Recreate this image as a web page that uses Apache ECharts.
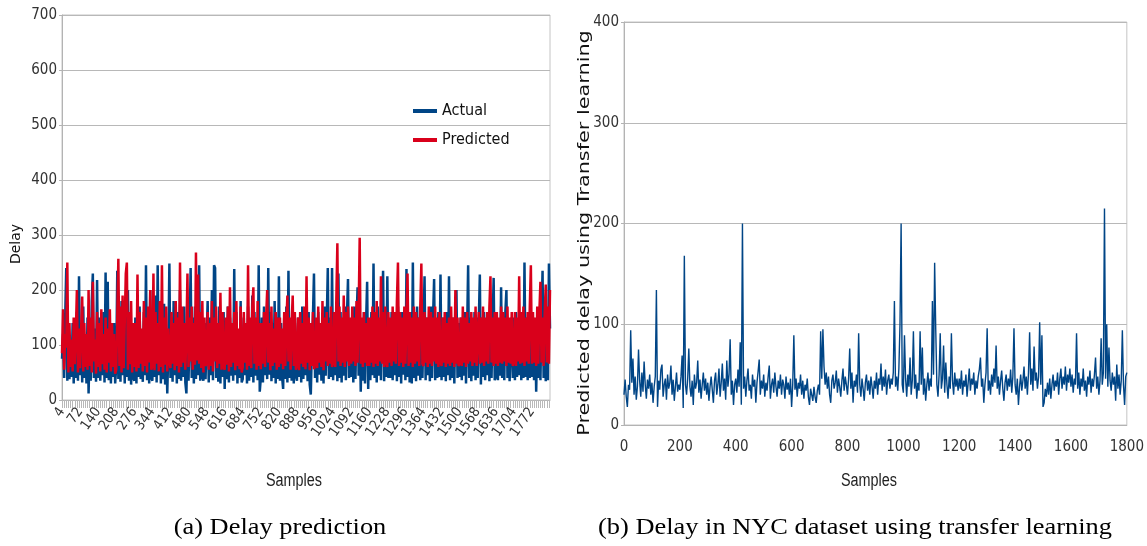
<!DOCTYPE html>
<html>
<head>
<meta charset="utf-8">
<script src="https://cdn.jsdelivr.net/npm/echarts@6/dist/echarts.min.js"></script>
<style>
html,body{margin:0;padding:0;background:#fff;}
#chart{width:1147px;height:546px;}
</style>
</head>
<body>
<div id="chart"></div>
<script>
// ---------- Panel (a): Delay prediction ----------
// one value every 4 samples, starting at sample 4
var LEFT_START = 4;
var LEFT_STEP = 4;
var actual = [
75,120,40,150,240,35,130,38,95,42,140,30,110,40,160,35,225,
45,140,32,170,40,120,30,150,12,100,35,180,230,40,130,33,218,
40,150,35,120,45,160,32,232,40,215,36,135,30,110,42,140,30,
60,235,38,140,33,180,45,125,30,160,42,200,35,145,28,120,40,
35,150,30,130,42,170,38,120,33,160,45,245,36,140,30,200,40,
35,140,42,190,32,245,45,150,30,130,38,175,28,120,12,90,248,
40,150,33,180,45,130,30,160,38,200,35,140,42,170,32,12,110,
35,130,240,40,150,30,170,38,140,45,245,35,160,42,35,140,38,
40,180,32,150,45,200,36,245,240,40,140,33,170,30,130,42,160,
20,130,38,170,32,150,44,140,35,238,45,160,30,120,40,180,32,
38,150,45,130,30,170,35,140,42,190,32,160,44,140,36,245,15,
40,150,32,170,45,130,38,240,46,160,34,140,40,180,30,150,38,
225,35,140,42,20,150,38,170,32,235,40,130,35,160,30,140,44,
35,150,42,130,32,170,38,140,45,120,34,160,28,10,90,150,230,
40,140,32,160,46,130,35,150,30,170,44,140,240,38,150,42,240,
36,150,45,140,34,230,40,160,32,140,44,170,36,150,220,40,140,
42,150,32,170,38,140,205,44,130,15,120,35,160,30,140,215,20,
130,36,160,45,248,40,150,32,170,44,140,36,160,235,34,150,42,
225,40,140,40,160,36,150,45,130,34,170,42,140,30,160,46,150,
36,238,42,150,32,160,30,250,40,140,34,170,44,150,36,160,40,
42,225,36,150,45,140,34,170,40,150,220,36,140,40,160,42,228,
36,150,42,140,34,160,45,225,36,140,40,150,30,160,200,40,140,
42,150,36,140,44,160,30,120,245,40,150,34,140,44,160,36,150,
40,140,228,28,150,42,160,36,140,45,150,34,160,40,140,222,36,
42,150,36,140,44,205,40,150,36,160,200,40,140,34,35,150,40,
150,36,160,42,140,45,150,36,160,40,250,42,150,36,140,40,150,
42,150,36,140,15,120,40,160,36,150,235,40,140,34,160,36,248,
130
];
var predicted = [
85,165,55,120,95,250,50,140,60,110,52,150,65,120,200,50,130,
58,130,188,52,140,60,120,55,200,62,150,50,215,70,110,48,160,
60,140,52,165,65,120,55,150,50,130,68,165,52,140,60,120,48,
55,150,257,62,170,50,190,58,140,230,250,55,160,65,180,50,140,
60,140,52,228,58,160,66,130,52,180,62,150,50,170,68,200,55,
62,230,54,160,66,140,52,180,60,245,50,150,64,170,52,130,70,
58,160,66,140,54,180,62,150,50,250,60,170,68,140,55,120,230,
60,150,70,170,55,140,64,268,72,228,66,160,58,180,50,150,62,
66,160,55,140,62,180,52,150,70,170,58,140,66,195,55,160,60,
55,150,64,170,52,205,60,140,68,160,54,180,62,130,56,170,50,
60,160,68,140,55,245,62,150,58,170,205,66,150,55,180,62,140,
56,140,66,160,60,150,200,68,140,54,170,62,130,68,160,55,150,
60,150,66,130,56,160,62,140,190,70,150,55,140,190,62,160,55,
62,150,54,160,66,140,60,170,56,225,68,150,54,140,62,160,56,
66,150,58,170,68,140,60,180,54,150,70,160,62,140,66,170,60,
68,160,60,180,285,70,170,62,150,68,190,60,160,70,170,62,150,
66,170,70,150,62,180,68,160,295,66,150,60,160,68,140,62,150,
62,150,68,170,60,160,66,180,62,150,70,225,66,160,60,170,68,
60,160,68,150,62,170,70,160,66,180,250,62,160,68,150,60,170,
66,150,230,62,160,68,150,60,170,66,160,70,150,62,170,248,66,
62,160,68,150,60,170,66,160,62,150,70,170,66,150,60,160,68,
62,150,68,160,60,140,66,150,62,170,68,150,60,200,66,150,62,
66,150,62,170,68,150,60,160,66,140,70,160,62,150,68,170,62,
62,160,66,150,68,170,62,150,70,160,66,170,225,68,150,62,160,
66,160,62,150,68,170,66,160,70,150,62,170,68,150,66,160,62,
68,160,62,150,70,225,66,160,68,170,62,150,70,160,66,170,245,
66,160,68,150,62,170,66,160,215,68,150,62,160,210,68,170,66,
200
];
var LEFT_LABEL_EVERY = 17;      // a label every 68 samples
var LEFT_LAST_LABEL = 1772;     // last labelled sample
var LEFT_Y_TICKS = [0,100,200,300,400,500,600,700];

// ---------- Panel (b): NYC transfer learning ----------
var RIGHT_STEP = 4; // one value every 4 samples, starting at sample 0
var nycDelay = [
30,45,28,18,40,35,94,42,66,30,48,25,38,75,44,28,52,33,63,40,26,45,36,50,30,42,22,38,48,134,18,44,35,55,60,28,40,46,25,50,36,42,59,30,45,24,38,52,33,40,
35,48,69,17,168,40,30,46,76,38,28,44,20,50,36,42,64,32,45,26,40,52,34,46,30,42,24,38,48,35,22,44,52,30,40,56,28,42,61,34,46,25,64,38,50,85,30,44,20,40,
46,32,55,38,82,20,200,36,48,28,44,56,34,40,26,50,38,45,22,42,53,65,30,44,36,50,28,42,34,48,59,26,40,46,32,52,38,28,44,36,50,30,45,40,26,48,35,42,30,46,
18,40,89,35,46,28,42,36,50,30,44,26,40,34,46,28,20,36,30,24,38,28,22,34,40,30,93,46,95,58,40,52,36,48,30,22,44,50,36,42,54,32,46,38,28,44,56,34,48,40,
30,46,76,36,52,22,44,38,50,32,91,40,28,46,36,24,42,50,34,44,30,48,38,26,44,36,52,30,46,40,61,34,48,38,55,30,44,50,36,46,40,52,123,38,48,34,56,100,200,40,
32,89,46,28,50,38,67,30,44,93,36,50,26,42,34,93,40,77,30,46,24,40,52,34,46,38,123,50,161,94,40,28,50,91,36,46,79,32,62,40,26,48,36,91,44,30,52,38,46,34,
46,36,54,30,44,38,50,28,42,56,34,46,40,52,30,44,36,48,55,67,38,46,22,40,52,96,34,44,30,50,38,56,42,79,36,48,30,44,54,36,24,42,50,34,46,38,55,32,48,96,
40,30,46,20,38,50,34,44,58,36,48,30,52,92,40,56,34,78,44,52,36,48,102,40,89,18,22,36,28,42,30,46,26,40,50,34,44,38,52,30,46,56,36,48,40,58,34,50,42,56,
38,50,32,46,40,91,36,52,30,46,38,56,34,44,28,48,40,54,32,46,38,50,67,36,48,30,44,86,40,52,215,46,100,38,77,44,34,52,40,48,24,60,36,50,30,44,94,40,20,48,52
];
var RIGHT_X_TICKS = [0,200,400,600,800,1000,1200,1400,1600,1800];
var RIGHT_Y_TICKS = [0,100,200,300,400];

// ---------- build ----------
var leftCats = actual.map(function(_, i){ return String(LEFT_START + i*LEFT_STEP); });
var nycData = nycDelay.map(function(v, i){ return [i*RIGHT_STEP, v]; });

var NARROW = "'DejaVu Sans Condensed','Liberation Sans',sans-serif";
var BLUE = '#004586', RED = '#d9001b';
var GRIDC = '#b8b8b8';
var plain = function(v){ return String(v); };

var chart = echarts.init(document.getElementById('chart'), null, {renderer:'canvas'});
chart.setOption({
  animation:false,
  backgroundColor:'#ffffff',
  legend:{
    data:['Actual','Predicted'],
    orient:'vertical',
    left:408, top:98,
    itemWidth:24, itemHeight:4, itemGap:13,
    icon:'rect',
    textStyle:{fontFamily:NARROW, fontSize:16, color:'#111'}
  },
  grid:[
    {left:62, top:15, right:597, bottom:146, show:true, borderColor:'#c4c4c4', borderWidth:1, containLabel:false},
    {left:624, top:22, right:19, bottom:121, show:true, borderColor:'#c4c4c4', borderWidth:1, containLabel:false}
  ],
  xAxis:[
    {gridIndex:0, type:'category', data:leftCats, boundaryGap:false,
     axisLine:{lineStyle:{color:'#b3b3b3', width:1}},
     axisTick:{show:true, interval:1, length:8, lineStyle:{color:'#b8b8b8'}},
     axisLabel:{interval:function(i, v){ return i % LEFT_LABEL_EVERY === 0 && +v <= LEFT_LAST_LABEL; },
                rotate:55, margin:9, fontFamily:NARROW, fontSize:14, color:'#333'},
     splitLine:{show:false}},
    {gridIndex:1, type:'value', min:RIGHT_X_TICKS[0], max:RIGHT_X_TICKS[RIGHT_X_TICKS.length-1], interval:RIGHT_X_TICKS[1]-RIGHT_X_TICKS[0],
     axisLine:{lineStyle:{color:'#b3b3b3'}},
     axisTick:{show:false},
     axisLabel:{margin:15, fontFamily:NARROW, fontSize:15, color:'#333', formatter:plain},
     splitLine:{show:false}}
  ],
  yAxis:[
    {gridIndex:0, type:'value', min:LEFT_Y_TICKS[0], max:LEFT_Y_TICKS[LEFT_Y_TICKS.length-1], interval:LEFT_Y_TICKS[1]-LEFT_Y_TICKS[0],
     axisLine:{show:true, lineStyle:{color:'#b3b3b3'}},
     axisTick:{show:true, length:3, lineStyle:{color:'#b3b3b3'}},
     axisLabel:{margin:5, fontFamily:NARROW, fontSize:15, color:'#333', formatter:plain},
     splitLine:{lineStyle:{color:GRIDC, width:1}}},
    {gridIndex:1, type:'value', min:RIGHT_Y_TICKS[0], max:RIGHT_Y_TICKS[RIGHT_Y_TICKS.length-1], interval:RIGHT_Y_TICKS[1]-RIGHT_Y_TICKS[0],
     axisLine:{show:true, lineStyle:{color:'#b3b3b3'}},
     axisTick:{show:true, length:3, lineStyle:{color:'#b3b3b3'}},
     axisLabel:{margin:5, fontFamily:NARROW, fontSize:15, color:'#333', formatter:plain},
     splitLine:{lineStyle:{color:GRIDC, width:1}}}
  ],
  series:[
    {name:'Actual', type:'line', xAxisIndex:0, yAxisIndex:0, data:actual, showSymbol:false, symbol:'none',
     lineStyle:{color:BLUE, width:2.5}, itemStyle:{color:BLUE}},
    {name:'Predicted', type:'line', xAxisIndex:0, yAxisIndex:0, data:predicted, showSymbol:false, symbol:'none',
     lineStyle:{color:RED, width:2.5}, itemStyle:{color:RED}},
    {name:'NYC', type:'line', xAxisIndex:1, yAxisIndex:1, data:nycData, showSymbol:false, symbol:'none',
     lineStyle:{color:BLUE, width:1.4}, itemStyle:{color:BLUE}}
  ],
  graphic:[
    {type:'text', x:16, y:244, rotation:Math.PI/2, style:{text:'Delay', font:"14px 'DejaVu Sans'", fill:'#111', align:'center', verticalAlign:'middle'}},
    {type:'text', x:585, y:233, rotation:Math.PI/2, scaleX:1.3, style:{text:'Predicted delay using Transfer learning', font:"16px 'DejaVu Sans'", fill:'#111', align:'center', verticalAlign:'middle'}},
    {type:'text', x:294, y:481, scaleX:0.8, style:{text:'Samples', font:"18px 'Liberation Sans'", fill:'#222', align:'center', verticalAlign:'middle'}},
    {type:'text', x:869, y:481, scaleX:0.8, style:{text:'Samples', font:"18px 'Liberation Sans'", fill:'#222', align:'center', verticalAlign:'middle'}},
    {type:'text', x:280, y:528, scaleX:1.1, style:{text:'(a) Delay prediction', font:"24px 'Liberation Serif'", fill:'#000', align:'center', verticalAlign:'middle'}},
    {type:'text', x:855, y:528, scaleX:1.1, style:{text:'(b) Delay in NYC dataset using transfer learning', font:"24px 'Liberation Serif'", fill:'#000', align:'center', verticalAlign:'middle'}}
  ]
});
</script>
</body>
</html>
